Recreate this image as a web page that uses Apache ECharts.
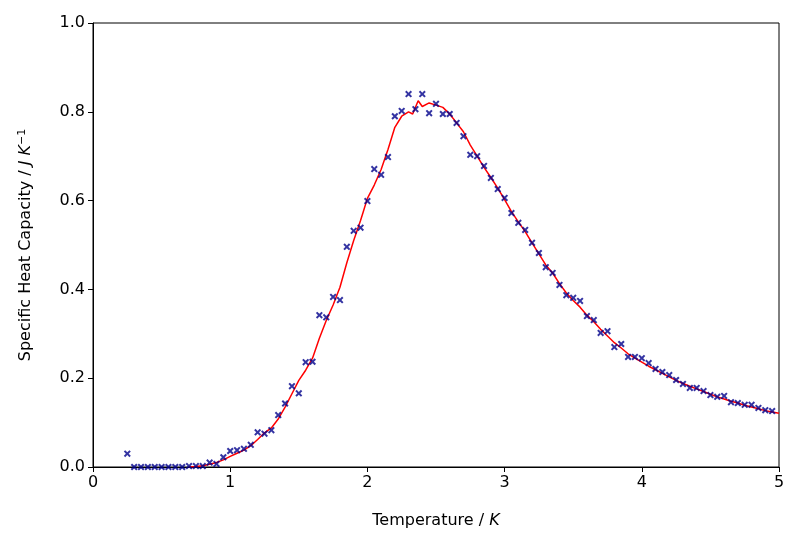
<!DOCTYPE html>
<html>
<head>
<meta charset="utf-8">
<script src="https://cdn.jsdelivr.net/npm/echarts@6/dist/echarts.min.js"></script>
<style>
  html, body { margin: 0; padding: 0; background: #fff; }
  #chart { width: 800px; height: 545px; }
</style>
</head>
<body>
<div id="chart"></div>
<script>
// measured points (x markers), T from 0.25 to 4.95 in steps of 0.05
const markerT = [
  0.25, 0.30, 0.35, 0.40, 0.45, 0.50, 0.55, 0.60, 0.65, 0.70, 0.75, 0.80,
  0.85, 0.90, 0.95, 1.00, 1.05, 1.10, 1.15, 1.20, 1.25, 1.30, 1.35, 1.40,
  1.45, 1.50, 1.55, 1.60, 1.65, 1.70, 1.75, 1.80, 1.85, 1.90, 1.95, 2.00,
  2.05, 2.10, 2.15, 2.20, 2.25, 2.30, 2.35, 2.40, 2.45, 2.50, 2.55, 2.60,
  2.65, 2.70, 2.75, 2.80, 2.85, 2.90, 2.95, 3.00, 3.05, 3.10, 3.15, 3.20,
  3.25, 3.30, 3.35, 3.40, 3.45, 3.50, 3.55, 3.60, 3.65, 3.70, 3.75, 3.80,
  3.85, 3.90, 3.95, 4.00, 4.05, 4.10, 4.15, 4.20, 4.25, 4.30, 4.35, 4.40,
  4.45, 4.50, 4.55, 4.60, 4.65, 4.70, 4.75, 4.80, 4.85, 4.90, 4.95
];
const markerC = [
  0.030, 0.000, 0.000, 0.000, 0.000, 0.000, 0.000, 0.000, 0.000, 0.002, 0.002, 0.002,
  0.010, 0.007, 0.022, 0.036, 0.038, 0.041, 0.050, 0.078, 0.075, 0.083, 0.117, 0.143,
  0.182, 0.166, 0.236, 0.237, 0.342, 0.337, 0.383, 0.376, 0.496, 0.532, 0.539, 0.599,
  0.671, 0.658, 0.698, 0.790, 0.802, 0.840, 0.806, 0.840, 0.797, 0.818, 0.795, 0.795,
  0.775, 0.745, 0.703, 0.700, 0.678, 0.651, 0.626, 0.606, 0.572, 0.550, 0.534, 0.505,
  0.482, 0.450, 0.437, 0.410, 0.387, 0.381, 0.374, 0.340, 0.331, 0.302, 0.306, 0.270,
  0.277, 0.248, 0.248, 0.245, 0.234, 0.221, 0.214, 0.207, 0.196, 0.187, 0.178, 0.178,
  0.171, 0.162, 0.158, 0.160, 0.146, 0.144, 0.140, 0.140, 0.133, 0.128, 0.126
];

// simulation curve (red line)
const curveT = [
  0.70, 0.75, 0.80, 0.85, 0.90, 0.95, 1.00, 1.05, 1.10, 1.15, 1.20, 1.25,
  1.30, 1.35, 1.40, 1.45, 1.50, 1.55, 1.60, 1.65, 1.70, 1.75, 1.80, 1.85,
  1.90, 1.95, 1.97, 2.00, 2.05, 2.10, 2.15, 2.20, 2.25, 2.30, 2.33, 2.37, 2.40, 2.45,
  2.50, 2.55, 2.60, 2.65, 2.70, 2.75, 2.80, 2.85, 2.90, 2.95, 3.00, 3.05,
  3.10, 3.15, 3.20, 3.25, 3.30, 3.35, 3.40, 3.45, 3.50, 3.55, 3.60, 3.65,
  3.70, 3.75, 3.80, 3.85, 3.90, 3.95, 4.00, 4.05, 4.10, 4.15, 4.20, 4.25,
  4.30, 4.35, 4.40, 4.45, 4.50, 4.55, 4.60, 4.65, 4.70, 4.75, 4.80, 4.85,
  4.90, 4.95, 5.00
];
const curveC = [
  0.000, 0.001, 0.003, 0.006, 0.010, 0.016, 0.024, 0.031, 0.038, 0.048, 0.062, 0.077,
  0.088, 0.108, 0.135, 0.165, 0.195, 0.218, 0.245, 0.290, 0.330, 0.365, 0.405, 0.460,
  0.510, 0.555, 0.575, 0.605, 0.635, 0.670, 0.715, 0.765, 0.790, 0.800, 0.795, 0.825, 0.812, 0.820,
  0.815, 0.810, 0.795, 0.775, 0.755, 0.725, 0.700, 0.675, 0.652, 0.628, 0.602, 0.575,
  0.552, 0.530, 0.505, 0.480, 0.455, 0.437, 0.413, 0.392, 0.375, 0.360, 0.342, 0.327,
  0.310, 0.295, 0.280, 0.268, 0.255, 0.245, 0.236, 0.227, 0.219, 0.211, 0.203, 0.195,
  0.188, 0.182, 0.176, 0.170, 0.164, 0.158, 0.153, 0.148, 0.144, 0.139, 0.135, 0.131,
  0.127, 0.124, 0.121
];

const chart = echarts.init(document.getElementById('chart'));
const font = 'DejaVu Sans';
// thick "x" marker
const crossPath = 'path://M0,2L2,0L5,3L8,0L10,2L7,5L10,8L8,10L5,7L2,10L0,8L3,5Z';

const option = {
  backgroundColor: '#fff',
  animation: false,
  grid: {
    left: 93, right: 21, top: 23, bottom: 78,
    show: true, borderColor: '#000', borderWidth: 1
  },
  xAxis: {
    type: 'value',
    min: 0, max: 5, interval: 1,
    name: '{n|Temperature / }{i|K}',
    nameLocation: 'middle',
    nameGap: 46,
    nameTextStyle: {
      rich: {
        n: { fontFamily: font, fontSize: 16, color: '#000' },
        i: { fontFamily: font, fontSize: 16, fontStyle: 'italic', color: '#000' }
      }
    },
    axisLine: { show: true, lineStyle: { color: '#000', width: 1 } },
    axisTick: { show: true, inside: false, length: 5, lineStyle: { color: '#000' } },
    axisLabel: { fontFamily: font, fontSize: 16, color: '#000', margin: 8 },
    splitLine: { show: false }
  },
  yAxis: {
    type: 'value',
    min: 0, max: 1, interval: 0.2,
    name: '{n|Specific Heat Capacity / }{i|J K}{s|−1}',
    nameLocation: 'middle',
    nameGap: 58,
    nameTextStyle: {
      rich: {
        n: { fontFamily: font, fontSize: 16, color: '#000' },
        i: { fontFamily: font, fontSize: 16, fontStyle: 'italic', color: '#000' },
        s: { fontFamily: font, fontSize: 11, color: '#000', padding: [0, 0, 7, 0] }
      }
    },
    axisLine: { show: true, lineStyle: { color: '#000', width: 1 } },
    axisTick: { show: true, inside: false, length: 5, lineStyle: { color: '#000' } },
    axisLabel: {
      fontFamily: font, fontSize: 16, color: '#000', margin: 8,
      formatter: v => v.toFixed(1)
    },
    splitLine: { show: false }
  },
  series: [
    {
      type: 'line',
      data: curveT.map((t, i) => [t, curveC[i]]),
      showSymbol: false,
      lineStyle: { color: '#ff0000', width: 1.5 },
      z: 2
    },
    {
      type: 'scatter',
      data: markerT.map((t, i) => [t, markerC[i]]),
      symbol: crossPath,
      symbolSize: 7,
      itemStyle: { color: '#00008b' },
      z: 3
    }
  ]
};

option && chart.setOption(option);
</script>
</body>
</html>
